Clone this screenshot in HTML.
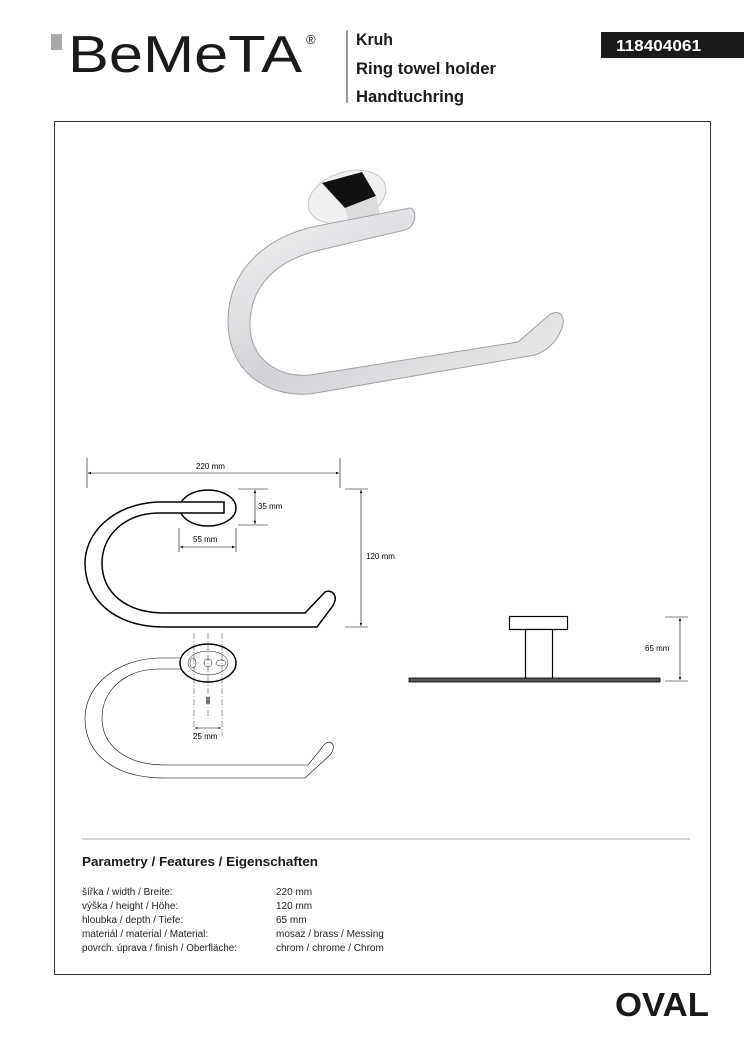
<!DOCTYPE html>
<html><head><meta charset="utf-8"><style>
html,body{margin:0;padding:0;background:#fff}
svg{display:block}
text{font-family:"Liberation Sans Narrow","Liberation Sans",sans-serif}
</style></head><body>
<svg width="744" height="1053" viewBox="0 0 744 1053" xmlns="http://www.w3.org/2000/svg">
<defs>
<linearGradient id="chr" x1="0" y1="0" x2="1" y2="1">
<stop offset="0" stop-color="#f4f4f6"/><stop offset="0.5" stop-color="#d2d3d6"/><stop offset="1" stop-color="#eeeeef"/>
</linearGradient>
<marker id="ar" markerWidth="6" markerHeight="6" refX="5" refY="3" orient="auto-start-reverse"><path d="M0,1 L5,3 L0,5 z" fill="#000"/></marker>
</defs>
<!-- header -->
<rect x="51" y="34" width="11" height="16" fill="#a8a8a8"/>
<text x="68" y="72" font-family="Liberation Sans" font-size="52" fill="#1a1a1a" textLength="234" lengthAdjust="spacingAndGlyphs">BeMeTA</text>
<text x="306" y="44" font-family="Liberation Sans" font-size="13" fill="#1a1a1a">®</text>
<line x1="347" y1="30" x2="347" y2="103" stroke="#333" stroke-width="1"/>
<text x="356" y="45" font-size="17" font-weight="bold" fill="#1a1a1a" textLength="37" lengthAdjust="spacingAndGlyphs">Kruh</text>
<text x="356" y="74" font-size="17" font-weight="bold" fill="#1a1a1a" textLength="140" lengthAdjust="spacingAndGlyphs">Ring towel holder</text>
<text x="356" y="102" font-size="17" font-weight="bold" fill="#1a1a1a" textLength="108" lengthAdjust="spacingAndGlyphs">Handtuchring</text>
<rect x="601" y="32" width="143" height="26" fill="#1a1a1a"/>
<text x="616" y="51" font-size="16" font-weight="bold" fill="#fff" textLength="85" lengthAdjust="spacingAndGlyphs">118404061</text>
<!-- frame -->
<rect x="54.5" y="121.5" width="656" height="853" fill="none" stroke="#333" stroke-width="1"/>
<!-- photo -->
<ellipse cx="347" cy="197" rx="40" ry="25" fill="#f0f0f2" stroke="#c4c4c8" transform="rotate(-18 347 197)"/>
<path d="M322,183 L362,172 L376,196 L345,208 z" fill="#111"/>
<path d="M345,208 L376,196 L380,216 L350,226 z" fill="#dcdcdf"/>
<path d="M410,208 L317,226 C268,236 228,268 228,322 C228,368 262,397 310,394 L535,355 C550,350 560,337 563,324 C565,313 556,309 548,316 L518,342 L310,375 C277,378 250,358 250,325 C250,285 277,260 320,250 L405,230 C416,227 418,210 410,208 z" fill="url(#chr)" stroke="#a0a0a4" stroke-width="1"/>
<!-- front view dims -->
<g stroke="#000" stroke-width="0.6" fill="none">
<line x1="87" y1="458" x2="87" y2="488"/><line x1="340" y1="458" x2="340" y2="488"/>
<line x1="88" y1="473" x2="339" y2="473" marker-start="url(#ar)" marker-end="url(#ar)"/>
<line x1="238" y1="489" x2="268" y2="489"/><line x1="238" y1="525" x2="268" y2="525"/>
<line x1="255" y1="490" x2="255" y2="524" marker-start="url(#ar)" marker-end="url(#ar)"/>
<line x1="179" y1="528" x2="179" y2="552"/><line x1="236" y1="528" x2="236" y2="552"/>
<line x1="180" y1="547" x2="235" y2="547" marker-start="url(#ar)" marker-end="url(#ar)"/>
<line x1="345" y1="489" x2="368" y2="489"/><line x1="345" y1="627" x2="368" y2="627"/>
<line x1="361" y1="490" x2="361" y2="626" marker-start="url(#ar)" marker-end="url(#ar)"/>
</g>
<g font-size="8" fill="#000" font-family="Liberation Sans">
<text x="196" y="469">220 mm</text><text x="258" y="509">35 mm</text>
<text x="193" y="542">55 mm</text><text x="366" y="559">120 mm</text>
<text x="193" y="739">25 mm</text><text x="645" y="651">65 mm</text>
</g>
<!-- front ring bold -->
<ellipse cx="208" cy="508" rx="28" ry="18" fill="#fff" stroke="#000" stroke-width="1.5"/>
<path d="M224,502 L157,502 C110,505 85,535 85,563 C85,600 115,627 165,627 L317,627 L332,607 C340,595 331,589 325,592 L305,613 L165,613 C125,613 102,592 102,563 C102,535 125,513 160,513 L224,513 z" fill="#fff" stroke="#000" stroke-width="1.5"/>
<!-- lower ring thin -->
<path d="M181,658 L157,658 C110,661 85,690 85,718 C85,755 115,778 165,778 L305,778 L330,755 C338,745 330,738 324,745 L308,765 L165,765 C125,765 102,745 102,718 C102,690 125,669 160,669 L181,669" fill="none" stroke="#000" stroke-width="0.6"/>
<ellipse cx="208" cy="663" rx="28" ry="19" fill="#fff" stroke="#000" stroke-width="1.5"/>
<ellipse cx="208" cy="663" rx="20" ry="12" fill="none" stroke="#000" stroke-width="0.5"/>
<ellipse cx="193" cy="663" rx="3" ry="5" fill="none" stroke="#000" stroke-width="0.5"/>
<circle cx="208" cy="663" r="4" fill="none" stroke="#000" stroke-width="0.5"/>
<ellipse cx="221" cy="663" rx="5" ry="3" fill="none" stroke="#000" stroke-width="0.5"/>
<g stroke="#000" stroke-width="0.4" fill="none" stroke-dasharray="6,2,1,2">
<line x1="194" y1="633" x2="194" y2="736"/><line x1="222" y1="633" x2="222" y2="736"/><line x1="208" y1="633" x2="208" y2="720"/>
</g>
<rect x="206" y="697" width="4" height="7" fill="#777"/>
<line x1="195" y1="728" x2="221" y2="728" stroke="#000" stroke-width="0.5" marker-start="url(#ar)" marker-end="url(#ar)"/>
<!-- side view -->
<rect x="509.5" y="616.5" width="58" height="13" fill="#fff" stroke="#000" stroke-width="1.2"/>
<rect x="525.5" y="629.5" width="27" height="49" fill="#fff" stroke="#000" stroke-width="1.2"/>
<rect x="409" y="678" width="251" height="4" fill="#555" stroke="#000" stroke-width="0.8"/>
<g stroke="#000" stroke-width="0.6">
<line x1="665" y1="617" x2="688" y2="617"/><line x1="665" y1="681" x2="688" y2="681"/>
<line x1="680" y1="618" x2="680" y2="680" marker-start="url(#ar)" marker-end="url(#ar)"/>
</g>
<!-- params -->
<line x1="82" y1="839" x2="690" y2="839" stroke="#bbb" stroke-width="1.2"/>
<text x="82" y="866" font-size="13" font-weight="bold" fill="#1a1a1a" textLength="236" lengthAdjust="spacingAndGlyphs">Parametry / Features / Eigenschaften</text>
<g font-size="10" fill="#222">
<text x="82" y="895">šířka / width / Breite:</text><text x="276" y="895">220 mm</text>
<text x="82" y="909">výška / height / Höhe:</text><text x="276" y="909">120 mm</text>
<text x="82" y="923">hloubka / depth / Tiefe:</text><text x="276" y="923">65 mm</text>
<text x="82" y="937">materiál / material / Material:</text><text x="276" y="937">mosaz / brass / Messing</text>
<text x="82" y="951" textLength="155" lengthAdjust="spacingAndGlyphs">povrch. úprava / finish / Oberfläche:</text><text x="276" y="951">chrom / chrome / Chrom</text>
</g>
<text x="615" y="1016" font-size="33" font-weight="bold" fill="#1a1a1a" textLength="94" lengthAdjust="spacingAndGlyphs">OVAL</text>
</svg>
</body></html>
